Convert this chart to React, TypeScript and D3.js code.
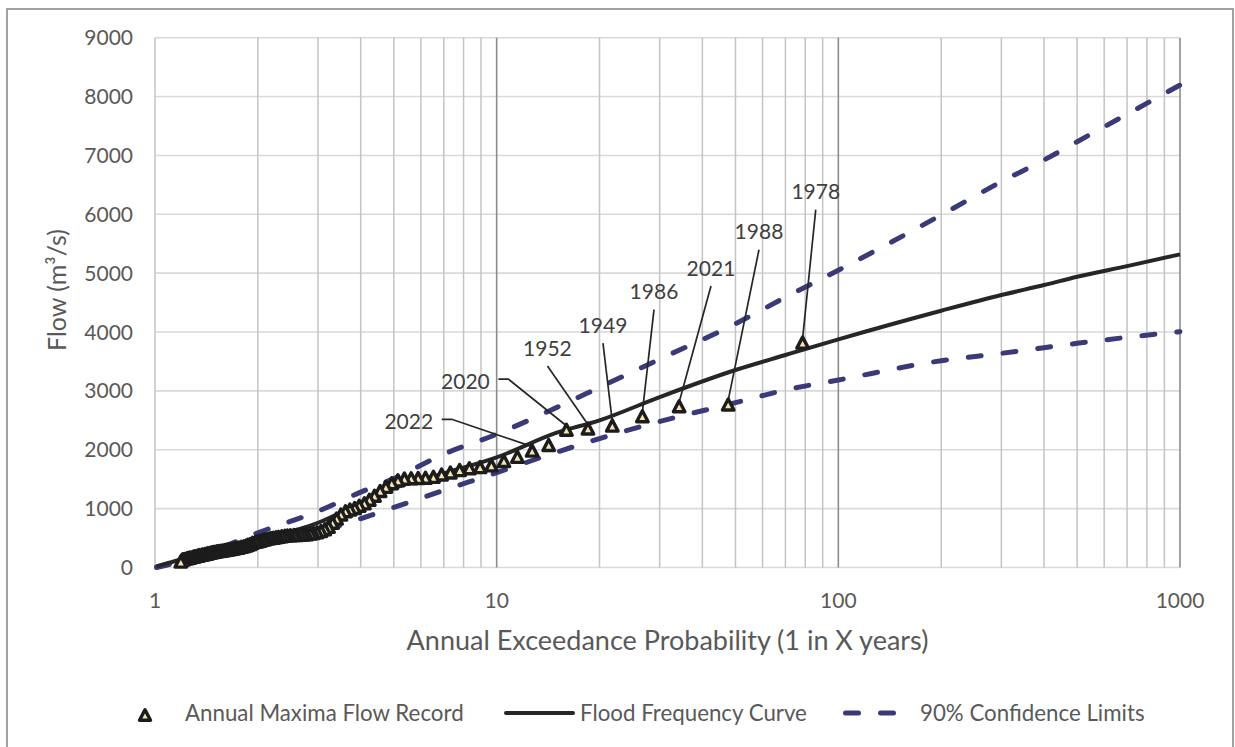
import React from 'react';
import * as d3 from 'd3';

const W = 1235;
const H = 747;

const yTickValues = [0, 1000, 2000, 3000, 4000, 5000, 6000, 7000, 8000, 9000];
const xTickValues = [1, 10, 100, 1000];

// Annual maxima record: return period (1 in X years) and flow (m3/s)
const amT = [
  78.6, 47.6, 34.2, 26.7, 21.8, 18.5, 16.0, 14.2, 12.7, 11.5,
  10.5, 9.65, 8.94, 8.32, 7.79, 7.32, 6.90, 6.53, 6.19, 5.89,
  5.62, 5.37, 5.14, 4.93, 4.74, 4.56, 4.39, 4.24, 4.10, 3.96,
  3.84, 3.72, 3.61, 3.50, 3.40, 3.31, 3.22, 3.14, 3.06, 2.98,
  2.91, 2.85, 2.78, 2.72, 2.66, 2.60, 2.55, 2.49, 2.44, 2.40,
  2.35, 2.30, 2.26, 2.22, 2.18, 2.14, 2.10, 2.07, 2.03, 2.00,
  1.97, 1.93, 1.90, 1.87, 1.85, 1.82, 1.79, 1.76, 1.74, 1.71,
  1.69, 1.67, 1.64, 1.62, 1.60, 1.58, 1.56, 1.54, 1.52, 1.50,
  1.48, 1.47, 1.45, 1.43, 1.42, 1.40, 1.38, 1.37, 1.35, 1.34,
  1.33, 1.31, 1.30, 1.29, 1.27, 1.26, 1.25, 1.24, 1.22, 1.21,
  1.20, 1.19,
];
const amFlow = [
  3820, 2770, 2740, 2570, 2410, 2360, 2340, 2080, 1985, 1880,
  1810, 1735, 1705, 1685, 1655, 1615, 1580, 1540, 1525, 1520,
  1515, 1510, 1480, 1430, 1370, 1300, 1220, 1150, 1090, 1050,
  1010, 985, 955, 900, 830, 760, 690, 650, 620, 600,
  585, 575, 565, 560, 555, 552, 550, 548, 545, 540,
  530, 520, 512, 505, 500, 490, 480, 470, 455, 445,
  435, 420, 400, 385, 375, 360, 350, 340, 333, 325,
  320, 315, 305, 300, 295, 290, 285, 280, 275, 268,
  262, 258, 250, 242, 238, 230, 222, 218, 210, 205,
  200, 192, 185, 180, 170, 165, 160, 155, 145, 140,
  130, 100,
];

// Flood frequency curve and 90% confidence limits
const curveT = [1.01, 1.1, 1.2, 1.5, 2, 3, 4, 5, 7, 10, 15, 20, 30, 50, 70, 100, 200, 300, 400, 500, 700, 1000];
const ffcFlow = [20, 80, 140, 270, 470, 760, 1100, 1345, 1600, 1870, 2290, 2500, 2895, 3355, 3610, 3876, 4362, 4629, 4799, 4940, 5120, 5320];
const upperFlow = [10, 60, 130, 300, 590, 955, 1280, 1510, 1925, 2265, 2720, 3060, 3540, 4140, 4590, 5050, 5988, 6554, 6922, 7233, 7700, 8196];
const lowerFlow = [0, 50, 100, 220, 370, 600, 830, 1020, 1310, 1610, 1960, 2190, 2480, 2800, 3015, 3185, 3513, 3638, 3734, 3808, 3910, 4006];

// Annotations
const annYears = ['2022', '2020', '1952', '1949', '1986', '2021', '1988', '1978'];
const annIndex = [8, 6, 5, 4, 3, 2, 1, 0];
const annLabelT = [5.53, 8.1, 14.08, 20.47, 28.87, 42.39, 58.58, 85.88];
const annLabelQ = [2477, 3159, 3729, 4119, 4688, 5088, 5704, 6384];
const annElbow = [true, true, false, false, false, false, false, false];

const legendLabels = ['Annual Maxima Flow Record', 'Flood Frequency Curve', '90% Confidence Limits'];

const FONT = "Lato, 'Open Sans', sans-serif";
const NAVY = '#3b3a78';
const BLACK = '#262626';
const MARKER_FILL = '#f3e4b4';

function triPath(cx: number, cy: number, b: number, h: number) {
  return `M${cx},${cy - h / 2}L${cx + b / 2},${cy + h / 2}L${cx - b / 2},${cy + h / 2}Z`;
}

export default function App() {
  const x = d3.scaleLog().domain([1, 1000]).range([155, 1180]);
  const y = d3.scaleLinear().domain([0, 9000]).range([567.5, 37.7]);

  const minorT: number[] = [];
  for (let d = 1; d < 1000; d *= 10) for (let k = 2; k <= 9; k++) minorT.push(k * d);

  const line = d3
    .line<[number, number]>()
    .x((d) => x(d[0]))
    .y((d) => y(d[1]))
    .curve(d3.curveMonotoneX);

  const ffc = line(curveT.map((t, i) => [t, ffcFlow[i]] as [number, number])) || '';
  const upper = line(curveT.map((t, i) => [t, upperFlow[i]] as [number, number])) || '';
  const lower = line(curveT.map((t, i) => [t, lowerFlow[i]] as [number, number])) || '';

  const x0 = x(1);
  const x1 = x(1000);

  return (
    <div style={{ position: 'absolute', left: 0, top: 0 }}>
      <svg width={W} height={H} style={{ display: 'block', background: '#fff' }}>
        <rect x={7} y={9} width={1226} height={760} fill="#fff" stroke="#8a8a8a" strokeWidth={1.6} />

        {/* horizontal gridlines */}
        {yTickValues.map((v) => (
          <line key={'h' + v} x1={x0} x2={x1} y1={y(v)} y2={y(v)} stroke="#d9d9d9" strokeWidth={1.6} />
        ))}
        {/* vertical minor gridlines */}
        <line x1={x0} x2={x0} y1={y(9000)} y2={y(0)} stroke="#c4c4c4" strokeWidth={1.5} />
        {minorT.map((t) => (
          <line key={'v' + t} x1={x(t)} x2={x(t)} y1={y(9000)} y2={y(0)} stroke="#c4c4c4" strokeWidth={1.5} />
        ))}
        {/* major gridlines */}
        {[10, 100, 1000].map((t) => (
          <line key={'m' + t} x1={x(t)} x2={x(t)} y1={y(9000)} y2={y(0)} stroke="#8c8c8c" strokeWidth={1.6} />
        ))}

        {/* y tick labels */}
        {yTickValues.map((v) => (
          <text key={'yl' + v} x={133} y={y(v)} dy="0.36em" textAnchor="end" fontFamily={FONT} fontSize={21} fill="#595959">
            {v}
          </text>
        ))}
        {/* x tick labels */}
        {xTickValues.map((t) => (
          <text key={'xl' + t} x={x(t)} y={600} dy="0.36em" textAnchor="middle" fontFamily={FONT} fontSize={21} fill="#595959">
            {t}
          </text>
        ))}

        {/* axis titles */}
        <text x={(x0 + x1) / 2} y={640} dy="0.36em" textAnchor="middle" fontFamily={FONT} fontSize={27} fill="#595959">
          Annual Exceedance Probability (1 in X years)
        </text>
        <text
          transform={`translate(57,290) rotate(-90)`}
          dy="0.36em"
          textAnchor="middle"
          fontFamily={FONT}
          fontSize={25}
          fill="#595959"
        >
          Flow (m³/s)
        </text>

        {/* confidence limits */}
        <path d={upper} fill="none" stroke={NAVY} strokeWidth={5} strokeDasharray="13 22" strokeLinecap="round" />
        <path d={lower} fill="none" stroke={NAVY} strokeWidth={5} strokeDasharray="13 22" strokeLinecap="round" />
        {/* flood frequency curve */}
        <path d={ffc} fill="none" stroke={BLACK} strokeWidth={4} strokeLinejoin="round" />

        {/* leader lines */}
        {annYears.map((yr, i) => {
          const px = x(amT[annIndex[i]]);
          const py = y(amFlow[annIndex[i]]) - 4;
          const lx = x(annLabelT[i]);
          const ly = y(annLabelQ[i]);
          const d = annElbow[i]
            ? `M${lx + 33},${ly - 2.4}L${lx + 43},${ly - 2.4}L${px},${py}`
            : `M${lx},${ly + 18}L${px},${py}`;
          return <path key={'ld' + yr} d={d} fill="none" stroke={BLACK} strokeWidth={1.7} />;
        })}

        {/* annual maxima markers */}
        {amT.map((t, i) => (
          <path
            key={'pt' + i}
            d={triPath(x(t), y(amFlow[i]), 11.5, 11)}
            fill={MARKER_FILL}
            stroke="#1c1c1c"
            strokeWidth={3.4}
            strokeLinejoin="round"
          />
        ))}

        {/* annotation labels */}
        {annYears.map((yr, i) => (
          <text
            key={'al' + yr}
            x={x(annLabelT[i])}
            y={y(annLabelQ[i])}
            dy="0.36em"
            textAnchor="middle"
            fontFamily={FONT}
            fontSize={21}
            fill="#404040"
          >
            {yr}
          </text>
        ))}

        {/* legend */}
        <path d={triPath(145, 715, 11, 10.5)} fill={MARKER_FILL} stroke="#1c1c1c" strokeWidth={3.4} strokeLinejoin="round" />
        <text x={185} y={713} dy="0.36em" fontFamily={FONT} fontSize={22.3} fill="#595959">
          {legendLabels[0]}
        </text>
        <line x1={506} x2={573} y1={713} y2={713} stroke={BLACK} strokeWidth={4} strokeLinecap="round" />
        <text x={580} y={713} dy="0.36em" fontFamily={FONT} fontSize={22.3} fill="#595959">
          {legendLabels[1]}
        </text>
        <line x1={845.5} x2={900} y1={713} y2={713} stroke={NAVY} strokeWidth={5} strokeDasharray="13 22" strokeLinecap="round" />
        <text x={920} y={713} dy="0.36em" fontFamily={FONT} fontSize={22.3} fill="#595959">
          {legendLabels[2]}
        </text>
      </svg>
    </div>
  );
}
